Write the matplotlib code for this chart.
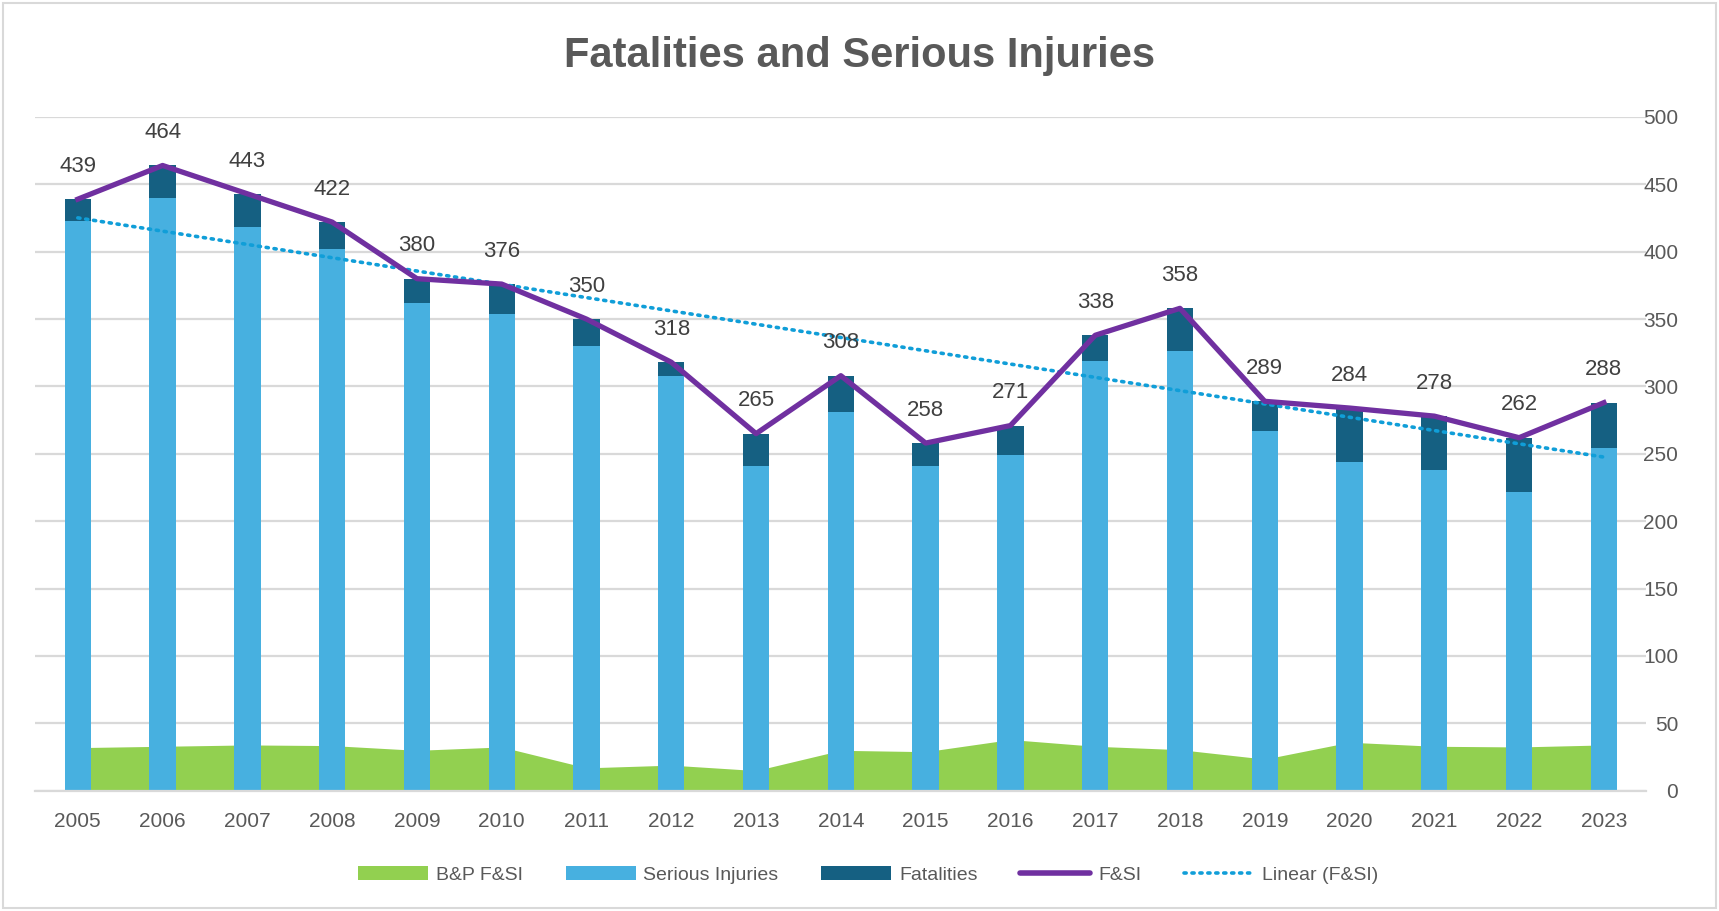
import numpy as np
import matplotlib
matplotlib.use("Agg")
import matplotlib.pyplot as plt
from matplotlib.patches import Patch, Rectangle
from matplotlib.lines import Line2D

# values
years = ["2005", "2006", "2007", "2008", "2009", "2010", "2011", "2012", "2013", "2014",
         "2015", "2016", "2017", "2018", "2019", "2020", "2021", "2022", "2023"]
fsi = [439, 464, 443, 422, 380, 376, 350, 318, 265, 308, 258, 271, 338, 358, 289, 284, 278, 262, 288]
serious = [423, 440, 418, 402, 362, 354, 330, 308, 241, 281, 241, 249, 319, 326, 267, 244, 238, 222, 254]
fatalities = [16, 24, 25, 20, 18, 22, 20, 10, 24, 27, 17, 22, 19, 32, 22, 40, 40, 40, 34]
bp_fsi = [32, 33, 34, 33.5, 30, 32.5, 17, 19, 15, 30, 29, 38, 33, 30.5, 23.5, 36, 33, 32.5, 34]
yticks = [0, 50, 100, 150, 200, 250, 300, 350, 400, 450, 500]

c_green = "#92D050"
c_light = "#47B0E0"
c_dark = "#156082"
c_purple = "#7030A0"
c_trend = "#109ED8"
c_text = "#595959"
c_grid = "#D9D9D9"

plt.rcParams["font.family"] = ["Liberation Sans", "DejaVu Sans"]

fig = plt.figure(figsize=(17.19, 9.11), dpi=100)
ax = fig.add_axes([0.0206, 0.132, 0.9371, 0.7396])

x = np.arange(len(years))

# green area behind the bars
ax.fill_between(x, 0, bp_fsi, color=c_green, linewidth=0, zorder=1)

# stacked bars
w = 0.31
ax.bar(x, serious, width=w, color=c_light, zorder=2)
ax.bar(x, fatalities, width=w, bottom=serious, color=c_dark, zorder=2)

# linear trend of F&SI
coef = np.polyfit(x, fsi, 1)
ax.plot(x, np.polyval(coef, x), color=c_trend, linewidth=2.6,
        linestyle=(0, (0.6, 1.6)), dash_capstyle="round", zorder=3)

# F&SI line with labels
ax.plot(x, fsi, color=c_purple, linewidth=3.8, solid_joinstyle="round", zorder=4)
for xi, v in zip(x, fsi):
    ax.annotate(str(v), (xi, v), xytext=(0, 16), textcoords="offset points",
                ha="center", va="bottom", fontsize=16, color="#404040", zorder=5)

ax.set_xlim(-0.5, len(years) - 0.5)
ax.set_ylim(0, 500)
ax.set_xticks(x)
ax.set_xticklabels(years, fontsize=15, color=c_text)
ax.set_yticks(yticks)
ax.yaxis.tick_right()
ax.set_yticklabels([str(t) for t in yticks], fontsize=15, color=c_text, ha="right")
ax.tick_params(axis="y", length=0, pad=23)
ax.tick_params(axis="x", length=0, pad=15)
ax.grid(axis="y", color=c_grid, linewidth=1.6, zorder=0)
ax.set_axisbelow(True)
for s in ["top", "left", "right"]:
    ax.spines[s].set_visible(False)
ax.spines["bottom"].set_color(c_grid)
ax.spines["bottom"].set_linewidth(1.6)

fig.text(0.5, 0.938, "Fatalities and Serious Injuries", ha="center", va="center",
         fontsize=30, fontweight="bold", color=c_text)

handles = [
    Patch(facecolor=c_green),
    Patch(facecolor=c_light),
    Patch(facecolor=c_dark),
    Line2D([0], [0], color=c_purple, linewidth=4, solid_capstyle="round"),
    Line2D([0], [0], color=c_trend, linewidth=2.6, linestyle=(0, (0.6, 1.6)),
           dash_capstyle="round"),
]
labels = ["B&P F&SI", "Serious Injuries", "Fatalities", "F&SI", "Linear (F&SI)"]
fig.legend(handles, labels, loc="center", bbox_to_anchor=(0.505, 0.04), ncol=5,
           frameon=False, handlelength=3.6, handleheight=0.75, columnspacing=2.2,
           handletextpad=0.4, prop={"size": 14}, labelcolor=c_text)

fig.patches.append(Rectangle((0.002, 0.003), 0.996, 0.994, transform=fig.transFigure,
                             fill=False, edgecolor=c_grid, linewidth=1.5))

fig.savefig("out.png", dpi=100, facecolor="white")
